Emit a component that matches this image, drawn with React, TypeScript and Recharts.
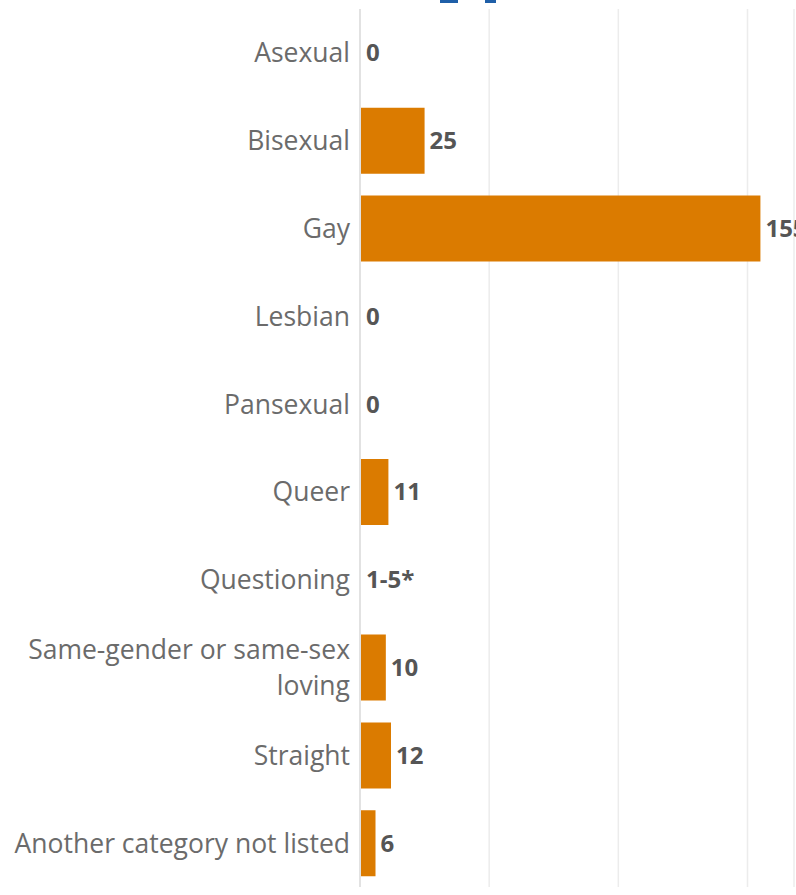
import { BarChart, Bar, XAxis, YAxis, CartesianGrid, LabelList, Cell } from "recharts";

const categories = [
  "Asexual",
  "Bisexual",
  "Gay",
  "Lesbian",
  "Pansexual",
  "Queer",
  "Questioning",
  "Same-gender or same-sex loving",
  "Straight",
  "Another category not listed",
];
const counts = [0, 25, 155, 0, 0, 11, 0, 10, 12, 6];
const valueLabels = ["0", "25", "155", "0", "0", "11", "1-5*", "10", "12", "6"];
const gridTicks = [0, 50, 100, 150];

const data = categories.map((name, i) => ({ name, count: counts[i], label: valueLabels[i] }));

const FONT = "'Open Sans', 'Noto Sans', sans-serif";
const TICK_SIZE = 26.5;
const LINE_HEIGHT = 36;
const TICK_MAX_WIDTH = 340;

// greedy word wrap measured with a canvas
const measureCtx = document.createElement("canvas").getContext("2d");
function wrapLabel(text: string): string[] {
  if (!measureCtx) return [text];
  measureCtx.font = `${TICK_SIZE}px ${FONT}`;
  const words = text.split(" ");
  const lines: string[] = [];
  let current = "";
  for (const w of words) {
    const next = current ? `${current} ${w}` : w;
    if (current && measureCtx.measureText(next).width > TICK_MAX_WIDTH) {
      lines.push(current);
      current = w;
    } else {
      current = next;
    }
  }
  if (current) lines.push(current);
  return lines;
}

function CategoryTick(props: any) {
  const { x, y, payload } = props;
  const lines = wrapLabel(String(payload.value));
  const firstDy = -((lines.length - 1) / 2) * LINE_HEIGHT + TICK_SIZE * 0.355;
  return (
    <text x={x} y={y} textAnchor="end" fontFamily={FONT} fontSize={TICK_SIZE} fill="#6b6b6b">
      {lines.map((line, i) => (
        <tspan key={i} x={x} dy={i === 0 ? firstDy : LINE_HEIGHT}>
          {line}
        </tspan>
      ))}
    </text>
  );
}

export default function App() {
  return (
    <div style={{ position: "absolute", left: 0, top: 0, width: 796, height: 895, background: "#fff" }}>
      <div style={{ position: "absolute", left: 440, top: 0, width: 18, height: 3, background: "#1f5fa8" }} />
      <div style={{ position: "absolute", left: 485, top: 0, width: 11, height: 3, background: "#1f5fa8" }} />
      <BarChart
        width={796}
        height={895}
        data={data}
        layout="vertical"
        margin={{ top: 9, right: 2, bottom: 8, left: 0 }}
        barCategoryGap="12.5%"
      >
        <CartesianGrid horizontal={false} stroke="#ececec" strokeWidth={1.5} />
        <XAxis type="number" domain={[0, 168]} ticks={gridTicks} hide />
        <YAxis
          type="category"
          dataKey="name"
          width={360}
          axisLine={{ stroke: "#e2e2e2", strokeWidth: 2 }}
          tickLine={false}
          tickMargin={4}
          tick={<CategoryTick />}
          interval={0}
        />
        <Bar dataKey="count" fill="#db7b00" minPointSize={1} isAnimationActive={false}>
          {data.map((d) => (
            <Cell key={d.name} fill={d.count === 0 ? "#e2e2e2" : "#db7b00"} />
          ))}
          <LabelList
            dataKey="label"
            position="right"
            offset={5}
            fill="#555"
            fontFamily={FONT}
            fontSize={24}
            fontWeight="bold"
          />
        </Bar>
      </BarChart>
    </div>
  );
}
